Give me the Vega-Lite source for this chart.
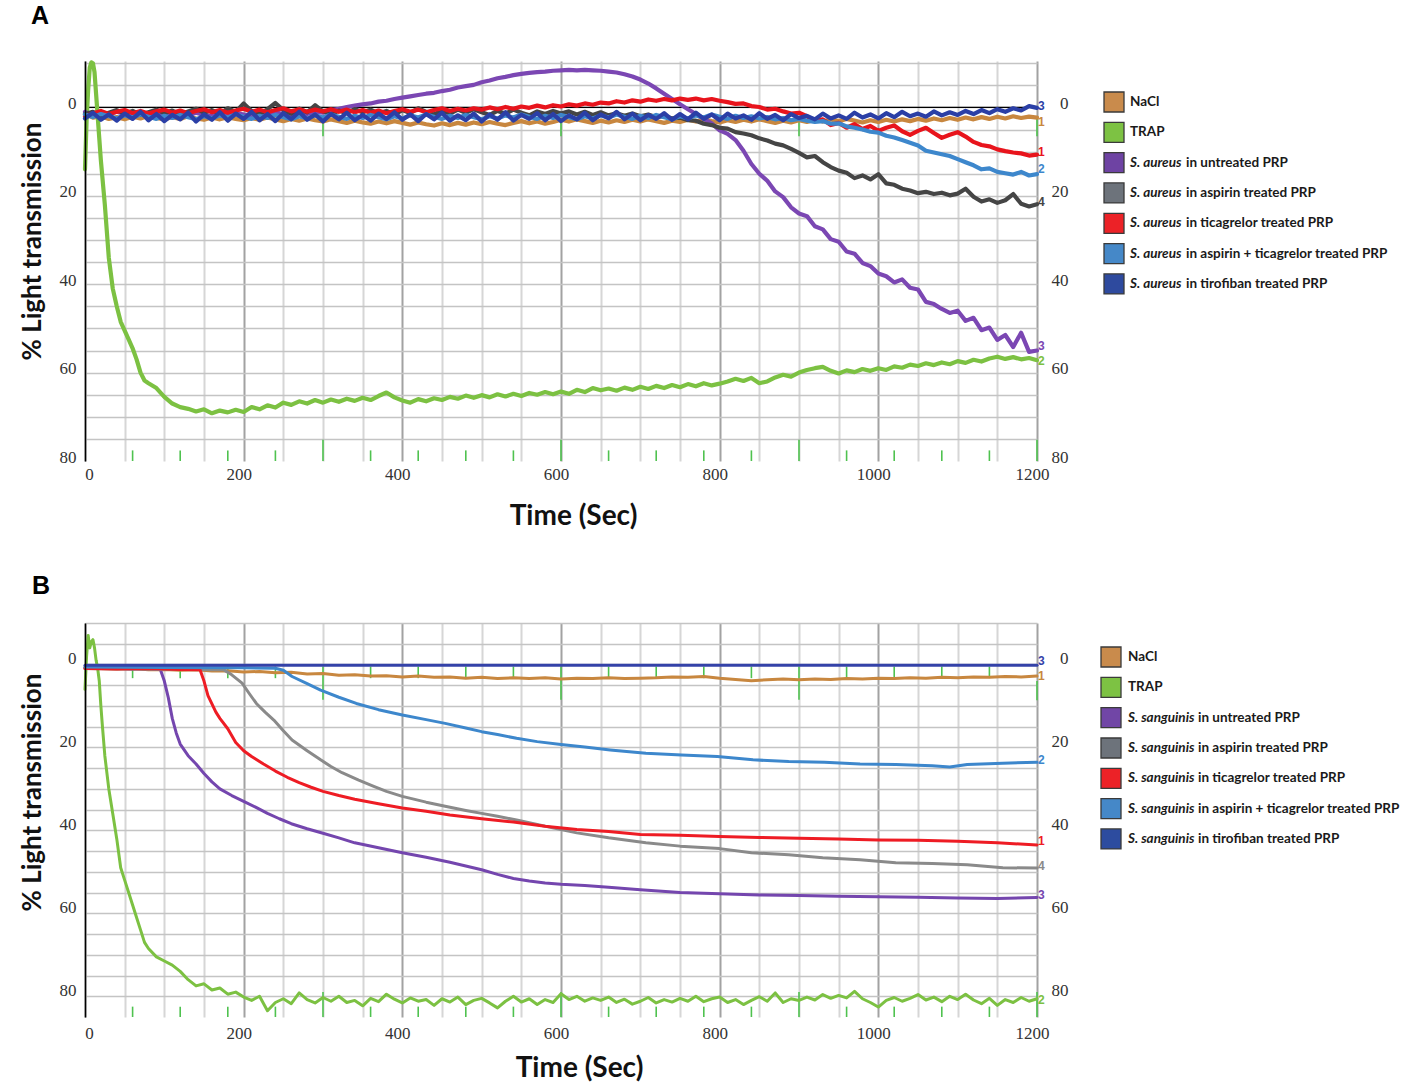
{
"$schema":"https://vega.github.io/schema/vega-lite/v6.json",
"background":"white",
"padding":{"left":19,"top":4,"right":0,"bottom":0},
"config":{"view":{"stroke":null},"axis":{"labelFont":"Liberation Serif","labelFontSize":17,"labelColor":"#333","ticks":false,"domain":false,"titleFont":"Lato","titleFontWeight":"bold","titleColor":"#111","labelFlush":false}},
"resolve":{"scale":{"color":"independent","fill":"independent"}},
"spacing":44,
"datasets":{
"A":[
{"s":"N","t":0,"v":1.5},{"s":"N","t":10,"v":2.3},{"s":"N","t":20,"v":2.0},{"s":"N","t":30,"v":2.6},{"s":"N","t":40,"v":2.2},{"s":"N","t":50,"v":2.7},{"s":"N","t":60,"v":2.1},{"s":"N","t":70,"v":2.5},{"s":"N","t":80,"v":1.9},{"s":"N","t":90,"v":2.4},{"s":"N","t":100,"v":2.7},{"s":"N","t":110,"v":2.2},{"s":"N","t":120,"v":2.6},{"s":"N","t":130,"v":2.0},{"s":"N","t":140,"v":2.5},{"s":"N","t":150,"v":2.8},{"s":"N","t":160,"v":2.3},{"s":"N","t":170,"v":2.7},{"s":"N","t":180,"v":2.2},{"s":"N","t":190,"v":2.6},{"s":"N","t":200,"v":2.9},{"s":"N","t":210,"v":2.4},{"s":"N","t":220,"v":2.8},{"s":"N","t":230,"v":2.3},{"s":"N","t":240,"v":2.7},{"s":"N","t":250,"v":3.1},{"s":"N","t":260,"v":2.6},{"s":"N","t":270,"v":3.0},{"s":"N","t":280,"v":2.5},{"s":"N","t":290,"v":2.9},{"s":"N","t":300,"v":3.2},{"s":"N","t":310,"v":2.7},{"s":"N","t":320,"v":3.1},{"s":"N","t":330,"v":3.5},{"s":"N","t":340,"v":3.0},{"s":"N","t":350,"v":3.4},{"s":"N","t":360,"v":3.7},{"s":"N","t":370,"v":3.2},{"s":"N","t":380,"v":3.6},{"s":"N","t":390,"v":3.1},{"s":"N","t":400,"v":3.5},{"s":"N","t":410,"v":3.9},{"s":"N","t":420,"v":3.4},{"s":"N","t":430,"v":3.8},{"s":"N","t":440,"v":4.1},{"s":"N","t":450,"v":3.6},{"s":"N","t":460,"v":4.0},{"s":"N","t":470,"v":3.5},{"s":"N","t":480,"v":3.9},{"s":"N","t":490,"v":3.4},{"s":"N","t":500,"v":3.8},{"s":"N","t":510,"v":3.3},{"s":"N","t":520,"v":3.7},{"s":"N","t":530,"v":4.0},{"s":"N","t":540,"v":3.5},{"s":"N","t":550,"v":3.1},{"s":"N","t":560,"v":3.6},{"s":"N","t":570,"v":3.2},{"s":"N","t":580,"v":3.7},{"s":"N","t":590,"v":3.3},{"s":"N","t":600,"v":2.8},{"s":"N","t":610,"v":3.2},{"s":"N","t":620,"v":2.7},{"s":"N","t":630,"v":3.1},{"s":"N","t":640,"v":3.5},{"s":"N","t":650,"v":3.0},{"s":"N","t":660,"v":3.4},{"s":"N","t":670,"v":2.9},{"s":"N","t":680,"v":3.3},{"s":"N","t":690,"v":2.8},{"s":"N","t":700,"v":3.2},{"s":"N","t":710,"v":2.7},{"s":"N","t":720,"v":3.1},{"s":"N","t":730,"v":3.5},{"s":"N","t":740,"v":3.0},{"s":"N","t":750,"v":3.3},{"s":"N","t":760,"v":2.8},{"s":"N","t":770,"v":3.2},{"s":"N","t":780,"v":2.7},{"s":"N","t":790,"v":3.1},{"s":"N","t":800,"v":3.4},{"s":"N","t":810,"v":2.9},{"s":"N","t":820,"v":3.3},{"s":"N","t":830,"v":2.8},{"s":"N","t":840,"v":3.2},{"s":"N","t":850,"v":2.7},{"s":"N","t":860,"v":3.1},{"s":"N","t":870,"v":3.5},{"s":"N","t":880,"v":3.0},{"s":"N","t":890,"v":3.4},{"s":"N","t":900,"v":2.9},{"s":"N","t":910,"v":3.3},{"s":"N","t":920,"v":2.8},{"s":"N","t":930,"v":3.2},{"s":"N","t":940,"v":2.7},{"s":"N","t":950,"v":3.1},{"s":"N","t":960,"v":2.6},{"s":"N","t":970,"v":3.0},{"s":"N","t":980,"v":3.4},{"s":"N","t":990,"v":2.9},{"s":"N","t":1000,"v":3.3},{"s":"N","t":1010,"v":2.8},{"s":"N","t":1020,"v":3.2},{"s":"N","t":1030,"v":2.7},{"s":"N","t":1040,"v":3.1},{"s":"N","t":1050,"v":2.6},{"s":"N","t":1060,"v":3.0},{"s":"N","t":1070,"v":2.5},{"s":"N","t":1080,"v":2.9},{"s":"N","t":1090,"v":2.4},{"s":"N","t":1100,"v":2.8},{"s":"N","t":1110,"v":2.3},{"s":"N","t":1120,"v":2.7},{"s":"N","t":1130,"v":2.2},{"s":"N","t":1140,"v":2.6},{"s":"N","t":1150,"v":2.1},{"s":"N","t":1160,"v":2.5},{"s":"N","t":1170,"v":2.0},{"s":"N","t":1180,"v":2.4},{"s":"N","t":1190,"v":2.1},{"s":"N","t":1200,"v":2.3},
{"s":"T","t":0,"v":14},{"s":"T","t":2,"v":3},{"s":"T","t":4,"v":-4},{"s":"T","t":6,"v":-9},{"s":"T","t":8,"v":-10.2},{"s":"T","t":10,"v":-10},{"s":"T","t":12,"v":-8},{"s":"T","t":14,"v":-3},{"s":"T","t":16,"v":2},{"s":"T","t":18,"v":7},{"s":"T","t":20,"v":12},{"s":"T","t":25,"v":22},{"s":"T","t":30,"v":34},{"s":"T","t":35,"v":41},{"s":"T","t":40,"v":45},{"s":"T","t":45,"v":48.5},{"s":"T","t":50,"v":50.5},{"s":"T","t":55,"v":52.5},{"s":"T","t":60,"v":54.5},{"s":"T","t":65,"v":57},{"s":"T","t":70,"v":60},{"s":"T","t":75,"v":61.8},{"s":"T","t":80,"v":62.4},{"s":"T","t":90,"v":63.5},{"s":"T","t":100,"v":65.5},{"s":"T","t":110,"v":67},{"s":"T","t":120,"v":67.8},{"s":"T","t":130,"v":68.2},{"s":"T","t":140,"v":68.8},{"s":"T","t":150,"v":68.3},{"s":"T","t":160,"v":69.2},{"s":"T","t":170,"v":68.6},{"s":"T","t":180,"v":69.0},{"s":"T","t":190,"v":68.4},{"s":"T","t":200,"v":68.9},{"s":"T","t":210,"v":67.8},{"s":"T","t":220,"v":68.3},{"s":"T","t":230,"v":67.4},{"s":"T","t":240,"v":67.9},{"s":"T","t":250,"v":66.8},{"s":"T","t":260,"v":67.3},{"s":"T","t":270,"v":66.5},{"s":"T","t":280,"v":67.0},{"s":"T","t":290,"v":66.2},{"s":"T","t":300,"v":66.8},{"s":"T","t":310,"v":66.1},{"s":"T","t":320,"v":66.6},{"s":"T","t":330,"v":65.9},{"s":"T","t":340,"v":66.4},{"s":"T","t":350,"v":65.7},{"s":"T","t":360,"v":66.2},{"s":"T","t":370,"v":65.3},{"s":"T","t":380,"v":64.5},{"s":"T","t":390,"v":65.6},{"s":"T","t":400,"v":66.3},{"s":"T","t":410,"v":66.8},{"s":"T","t":420,"v":66.0},{"s":"T","t":430,"v":66.5},{"s":"T","t":440,"v":65.8},{"s":"T","t":450,"v":66.2},{"s":"T","t":460,"v":65.5},{"s":"T","t":470,"v":65.9},{"s":"T","t":480,"v":65.2},{"s":"T","t":490,"v":65.7},{"s":"T","t":500,"v":65.1},{"s":"T","t":510,"v":65.6},{"s":"T","t":520,"v":64.9},{"s":"T","t":530,"v":65.4},{"s":"T","t":540,"v":64.8},{"s":"T","t":550,"v":65.3},{"s":"T","t":560,"v":64.6},{"s":"T","t":570,"v":65.0},{"s":"T","t":580,"v":64.4},{"s":"T","t":590,"v":64.9},{"s":"T","t":600,"v":64.3},{"s":"T","t":610,"v":64.8},{"s":"T","t":620,"v":63.9},{"s":"T","t":630,"v":64.4},{"s":"T","t":640,"v":63.5},{"s":"T","t":650,"v":64.0},{"s":"T","t":660,"v":63.6},{"s":"T","t":670,"v":64.1},{"s":"T","t":680,"v":63.4},{"s":"T","t":690,"v":63.9},{"s":"T","t":700,"v":63.2},{"s":"T","t":710,"v":63.7},{"s":"T","t":720,"v":63.0},{"s":"T","t":730,"v":63.5},{"s":"T","t":740,"v":62.8},{"s":"T","t":750,"v":63.3},{"s":"T","t":760,"v":62.6},{"s":"T","t":770,"v":63.1},{"s":"T","t":780,"v":62.4},{"s":"T","t":790,"v":62.9},{"s":"T","t":800,"v":62.5},{"s":"T","t":810,"v":62.0},{"s":"T","t":820,"v":61.4},{"s":"T","t":830,"v":61.9},{"s":"T","t":840,"v":61.2},{"s":"T","t":850,"v":62.4},{"s":"T","t":860,"v":62.0},{"s":"T","t":870,"v":61.1},{"s":"T","t":880,"v":60.5},{"s":"T","t":890,"v":60.9},{"s":"T","t":900,"v":60.0},{"s":"T","t":910,"v":59.4},{"s":"T","t":920,"v":59.0},{"s":"T","t":930,"v":58.7},{"s":"T","t":940,"v":59.6},{"s":"T","t":950,"v":60.2},{"s":"T","t":960,"v":59.5},{"s":"T","t":970,"v":59.9},{"s":"T","t":980,"v":59.2},{"s":"T","t":990,"v":59.6},{"s":"T","t":1000,"v":59.0},{"s":"T","t":1010,"v":59.4},{"s":"T","t":1020,"v":58.6},{"s":"T","t":1030,"v":58.9},{"s":"T","t":1040,"v":58.2},{"s":"T","t":1050,"v":58.5},{"s":"T","t":1060,"v":57.9},{"s":"T","t":1070,"v":58.3},{"s":"T","t":1080,"v":57.7},{"s":"T","t":1090,"v":58.1},{"s":"T","t":1100,"v":57.4},{"s":"T","t":1110,"v":57.8},{"s":"T","t":1120,"v":57.1},{"s":"T","t":1130,"v":57.5},{"s":"T","t":1140,"v":56.8},{"s":"T","t":1150,"v":56.4},{"s":"T","t":1160,"v":56.9},{"s":"T","t":1170,"v":56.5},{"s":"T","t":1180,"v":57.0},{"s":"T","t":1190,"v":56.7},{"s":"T","t":1200,"v":57.2},
{"s":"U","t":0,"v":1.0},{"s":"U","t":10,"v":1.8},{"s":"U","t":20,"v":1.2},{"s":"U","t":30,"v":1.6},{"s":"U","t":40,"v":1.0},{"s":"U","t":50,"v":1.5},{"s":"U","t":60,"v":1.9},{"s":"U","t":70,"v":1.3},{"s":"U","t":80,"v":1.7},{"s":"U","t":90,"v":1.1},{"s":"U","t":100,"v":1.6},{"s":"U","t":110,"v":2.0},{"s":"U","t":120,"v":1.4},{"s":"U","t":130,"v":1.8},{"s":"U","t":140,"v":1.2},{"s":"U","t":150,"v":1.7},{"s":"U","t":160,"v":2.0},{"s":"U","t":170,"v":1.4},{"s":"U","t":180,"v":1.8},{"s":"U","t":190,"v":1.2},{"s":"U","t":200,"v":1.6},{"s":"U","t":210,"v":1.9},{"s":"U","t":220,"v":1.3},{"s":"U","t":230,"v":1.7},{"s":"U","t":240,"v":1.1},{"s":"U","t":250,"v":1.5},{"s":"U","t":260,"v":1.8},{"s":"U","t":270,"v":1.2},{"s":"U","t":280,"v":1.5},{"s":"U","t":290,"v":1.0},{"s":"U","t":300,"v":1.2},{"s":"U","t":310,"v":0.6},{"s":"U","t":320,"v":0.3},{"s":"U","t":330,"v":-0.1},{"s":"U","t":340,"v":-0.4},{"s":"U","t":350,"v":-0.7},{"s":"U","t":360,"v":-0.9},{"s":"U","t":370,"v":-1.3},{"s":"U","t":380,"v":-1.5},{"s":"U","t":390,"v":-1.9},{"s":"U","t":400,"v":-2.2},{"s":"U","t":410,"v":-2.5},{"s":"U","t":420,"v":-2.8},{"s":"U","t":430,"v":-3.1},{"s":"U","t":440,"v":-3.3},{"s":"U","t":450,"v":-3.7},{"s":"U","t":460,"v":-4.0},{"s":"U","t":470,"v":-4.5},{"s":"U","t":480,"v":-4.8},{"s":"U","t":490,"v":-5.1},{"s":"U","t":500,"v":-5.7},{"s":"U","t":510,"v":-6.1},{"s":"U","t":520,"v":-6.6},{"s":"U","t":530,"v":-6.9},{"s":"U","t":540,"v":-7.3},{"s":"U","t":550,"v":-7.6},{"s":"U","t":560,"v":-7.8},{"s":"U","t":570,"v":-8.0},{"s":"U","t":580,"v":-8.1},{"s":"U","t":590,"v":-8.3},{"s":"U","t":600,"v":-8.4},{"s":"U","t":610,"v":-8.5},{"s":"U","t":620,"v":-8.4},{"s":"U","t":630,"v":-8.5},{"s":"U","t":640,"v":-8.4},{"s":"U","t":650,"v":-8.3},{"s":"U","t":660,"v":-8.1},{"s":"U","t":670,"v":-7.9},{"s":"U","t":680,"v":-7.5},{"s":"U","t":690,"v":-7.0},{"s":"U","t":700,"v":-6.3},{"s":"U","t":710,"v":-5.4},{"s":"U","t":720,"v":-4.3},{"s":"U","t":730,"v":-3.1},{"s":"U","t":740,"v":-1.9},{"s":"U","t":750,"v":-0.7},{"s":"U","t":760,"v":0.4},{"s":"U","t":770,"v":1.5},{"s":"U","t":780,"v":2.6},{"s":"U","t":790,"v":3.6},{"s":"U","t":800,"v":5.2},{"s":"U","t":810,"v":6.0},{"s":"U","t":820,"v":7.4},{"s":"U","t":830,"v":9.8},{"s":"U","t":840,"v":12.8},{"s":"U","t":850,"v":15.0},{"s":"U","t":860,"v":16.6},{"s":"U","t":870,"v":19.0},{"s":"U","t":880,"v":20.3},{"s":"U","t":890,"v":22.6},{"s":"U","t":900,"v":24.0},{"s":"U","t":910,"v":24.6},{"s":"U","t":920,"v":26.9},{"s":"U","t":930,"v":27.6},{"s":"U","t":940,"v":29.8},{"s":"U","t":950,"v":30.4},{"s":"U","t":960,"v":32.6},{"s":"U","t":970,"v":33.1},{"s":"U","t":980,"v":35.2},{"s":"U","t":990,"v":35.9},{"s":"U","t":1000,"v":37.6},{"s":"U","t":1010,"v":38.2},{"s":"U","t":1020,"v":39.6},{"s":"U","t":1030,"v":38.9},{"s":"U","t":1040,"v":40.8},{"s":"U","t":1050,"v":41.2},{"s":"U","t":1060,"v":44.0},{"s":"U","t":1070,"v":44.5},{"s":"U","t":1080,"v":45.6},{"s":"U","t":1090,"v":46.5},{"s":"U","t":1100,"v":46.0},{"s":"U","t":1110,"v":48.3},{"s":"U","t":1120,"v":47.6},{"s":"U","t":1130,"v":50.4},{"s":"U","t":1140,"v":49.8},{"s":"U","t":1150,"v":52.6},{"s":"U","t":1160,"v":51.5},{"s":"U","t":1170,"v":54.2},{"s":"U","t":1180,"v":51.0},{"s":"U","t":1190,"v":55.3},{"s":"U","t":1200,"v":55.0},
{"s":"G","t":0,"v":1.5},{"s":"G","t":10,"v":1.0},{"s":"G","t":20,"v":1.9},{"s":"G","t":30,"v":1.2},{"s":"G","t":40,"v":0.6},{"s":"G","t":50,"v":1.4},{"s":"G","t":60,"v":0.8},{"s":"G","t":70,"v":1.7},{"s":"G","t":80,"v":1.1},{"s":"G","t":90,"v":0.5},{"s":"G","t":100,"v":1.3},{"s":"G","t":110,"v":0.7},{"s":"G","t":120,"v":1.6},{"s":"G","t":130,"v":0.9},{"s":"G","t":140,"v":0.3},{"s":"G","t":150,"v":1.2},{"s":"G","t":160,"v":0.6},{"s":"G","t":170,"v":1.5},{"s":"G","t":180,"v":0.2},{"s":"G","t":190,"v":1.0},{"s":"G","t":200,"v":-0.9},{"s":"G","t":210,"v":0.8},{"s":"G","t":220,"v":1.5},{"s":"G","t":230,"v":0.4},{"s":"G","t":240,"v":-1.0},{"s":"G","t":250,"v":0.6},{"s":"G","t":260,"v":1.4},{"s":"G","t":270,"v":0.3},{"s":"G","t":280,"v":1.1},{"s":"G","t":290,"v":-0.5},{"s":"G","t":300,"v":0.9},{"s":"G","t":310,"v":1.6},{"s":"G","t":320,"v":0.7},{"s":"G","t":330,"v":1.3},{"s":"G","t":340,"v":0.4},{"s":"G","t":350,"v":1.1},{"s":"G","t":360,"v":0.5},{"s":"G","t":370,"v":1.4},{"s":"G","t":380,"v":0.8},{"s":"G","t":390,"v":1.6},{"s":"G","t":400,"v":0.6},{"s":"G","t":410,"v":1.3},{"s":"G","t":420,"v":0.2},{"s":"G","t":430,"v":1.0},{"s":"G","t":440,"v":1.6},{"s":"G","t":450,"v":0.7},{"s":"G","t":460,"v":1.4},{"s":"G","t":470,"v":0.5},{"s":"G","t":480,"v":1.2},{"s":"G","t":490,"v":0.4},{"s":"G","t":500,"v":1.1},{"s":"G","t":510,"v":1.7},{"s":"G","t":520,"v":0.8},{"s":"G","t":530,"v":1.4},{"s":"G","t":540,"v":0.5},{"s":"G","t":550,"v":1.2},{"s":"G","t":560,"v":1.8},{"s":"G","t":570,"v":0.9},{"s":"G","t":580,"v":1.5},{"s":"G","t":590,"v":0.8},{"s":"G","t":600,"v":1.4},{"s":"G","t":610,"v":0.9},{"s":"G","t":620,"v":1.6},{"s":"G","t":630,"v":1.0},{"s":"G","t":640,"v":1.7},{"s":"G","t":650,"v":1.1},{"s":"G","t":660,"v":1.8},{"s":"G","t":670,"v":1.3},{"s":"G","t":680,"v":1.9},{"s":"G","t":690,"v":1.4},{"s":"G","t":700,"v":2.0},{"s":"G","t":710,"v":1.6},{"s":"G","t":720,"v":2.2},{"s":"G","t":730,"v":1.9},{"s":"G","t":740,"v":2.5},{"s":"G","t":750,"v":2.3},{"s":"G","t":760,"v":2.9},{"s":"G","t":770,"v":3.0},{"s":"G","t":780,"v":3.7},{"s":"G","t":790,"v":4.0},{"s":"G","t":800,"v":4.6},{"s":"G","t":810,"v":4.8},{"s":"G","t":820,"v":5.6},{"s":"G","t":830,"v":5.9},{"s":"G","t":840,"v":6.3},{"s":"G","t":850,"v":7.0},{"s":"G","t":860,"v":7.5},{"s":"G","t":870,"v":8.2},{"s":"G","t":880,"v":8.6},{"s":"G","t":890,"v":9.4},{"s":"G","t":900,"v":10.3},{"s":"G","t":910,"v":11.3},{"s":"G","t":920,"v":11.0},{"s":"G","t":930,"v":12.4},{"s":"G","t":940,"v":13.5},{"s":"G","t":950,"v":14.3},{"s":"G","t":960,"v":14.8},{"s":"G","t":970,"v":16.0},{"s":"G","t":980,"v":15.4},{"s":"G","t":990,"v":16.3},{"s":"G","t":1000,"v":15.1},{"s":"G","t":1010,"v":17.2},{"s":"G","t":1020,"v":17.5},{"s":"G","t":1030,"v":18.4},{"s":"G","t":1040,"v":18.8},{"s":"G","t":1050,"v":19.4},{"s":"G","t":1060,"v":19.1},{"s":"G","t":1070,"v":19.6},{"s":"G","t":1080,"v":19.3},{"s":"G","t":1090,"v":19.9},{"s":"G","t":1100,"v":19.5},{"s":"G","t":1110,"v":18.4},{"s":"G","t":1120,"v":20.2},{"s":"G","t":1130,"v":21.3},{"s":"G","t":1140,"v":20.8},{"s":"G","t":1150,"v":21.6},{"s":"G","t":1160,"v":21.0},{"s":"G","t":1170,"v":19.6},{"s":"G","t":1180,"v":21.8},{"s":"G","t":1190,"v":22.4},{"s":"G","t":1200,"v":21.9},
{"s":"R","t":0,"v":2.0},{"s":"R","t":10,"v":1.4},{"s":"R","t":20,"v":0.8},{"s":"R","t":30,"v":1.5},{"s":"R","t":40,"v":1.0},{"s":"R","t":50,"v":0.6},{"s":"R","t":60,"v":1.3},{"s":"R","t":70,"v":0.8},{"s":"R","t":80,"v":1.4},{"s":"R","t":90,"v":0.9},{"s":"R","t":100,"v":0.5},{"s":"R","t":110,"v":1.2},{"s":"R","t":120,"v":0.7},{"s":"R","t":130,"v":1.3},{"s":"R","t":140,"v":0.8},{"s":"R","t":150,"v":0.4},{"s":"R","t":160,"v":1.1},{"s":"R","t":170,"v":0.6},{"s":"R","t":180,"v":1.2},{"s":"R","t":190,"v":0.7},{"s":"R","t":200,"v":0.3},{"s":"R","t":210,"v":1.0},{"s":"R","t":220,"v":0.5},{"s":"R","t":230,"v":1.1},{"s":"R","t":240,"v":0.6},{"s":"R","t":250,"v":0.2},{"s":"R","t":260,"v":0.9},{"s":"R","t":270,"v":0.4},{"s":"R","t":280,"v":1.0},{"s":"R","t":290,"v":0.5},{"s":"R","t":300,"v":0.9},{"s":"R","t":310,"v":0.4},{"s":"R","t":320,"v":1.0},{"s":"R","t":330,"v":0.5},{"s":"R","t":340,"v":1.1},{"s":"R","t":350,"v":0.6},{"s":"R","t":360,"v":1.2},{"s":"R","t":370,"v":0.7},{"s":"R","t":380,"v":1.3},{"s":"R","t":390,"v":0.8},{"s":"R","t":400,"v":0.4},{"s":"R","t":410,"v":1.0},{"s":"R","t":420,"v":0.5},{"s":"R","t":430,"v":1.1},{"s":"R","t":440,"v":0.6},{"s":"R","t":450,"v":0.2},{"s":"R","t":460,"v":0.8},{"s":"R","t":470,"v":0.3},{"s":"R","t":480,"v":0.7},{"s":"R","t":490,"v":0.2},{"s":"R","t":500,"v":0.5},{"s":"R","t":510,"v":0.0},{"s":"R","t":520,"v":0.4},{"s":"R","t":530,"v":-0.1},{"s":"R","t":540,"v":0.3},{"s":"R","t":550,"v":-0.2},{"s":"R","t":560,"v":0.1},{"s":"R","t":570,"v":-0.4},{"s":"R","t":580,"v":0.0},{"s":"R","t":590,"v":-0.5},{"s":"R","t":600,"v":-0.2},{"s":"R","t":610,"v":-0.7},{"s":"R","t":620,"v":-0.4},{"s":"R","t":630,"v":-0.9},{"s":"R","t":640,"v":-0.6},{"s":"R","t":650,"v":-1.1},{"s":"R","t":660,"v":-0.9},{"s":"R","t":670,"v":-1.4},{"s":"R","t":680,"v":-1.1},{"s":"R","t":690,"v":-1.6},{"s":"R","t":700,"v":-1.3},{"s":"R","t":710,"v":-1.8},{"s":"R","t":720,"v":-1.5},{"s":"R","t":730,"v":-1.9},{"s":"R","t":740,"v":-1.6},{"s":"R","t":750,"v":-2.0},{"s":"R","t":760,"v":-1.7},{"s":"R","t":770,"v":-2.0},{"s":"R","t":780,"v":-1.6},{"s":"R","t":790,"v":-1.9},{"s":"R","t":800,"v":-1.5},{"s":"R","t":810,"v":-1.2},{"s":"R","t":820,"v":-0.8},{"s":"R","t":830,"v":-0.9},{"s":"R","t":840,"v":-0.3},{"s":"R","t":850,"v":-0.1},{"s":"R","t":860,"v":0.5},{"s":"R","t":870,"v":0.3},{"s":"R","t":880,"v":0.9},{"s":"R","t":890,"v":1.4},{"s":"R","t":900,"v":1.2},{"s":"R","t":910,"v":2.0},{"s":"R","t":920,"v":3.1},{"s":"R","t":930,"v":2.7},{"s":"R","t":940,"v":4.0},{"s":"R","t":950,"v":3.5},{"s":"R","t":960,"v":4.6},{"s":"R","t":970,"v":3.8},{"s":"R","t":980,"v":4.9},{"s":"R","t":990,"v":4.2},{"s":"R","t":1000,"v":5.3},{"s":"R","t":1010,"v":4.6},{"s":"R","t":1020,"v":4.1},{"s":"R","t":1030,"v":5.4},{"s":"R","t":1040,"v":6.2},{"s":"R","t":1050,"v":5.3},{"s":"R","t":1060,"v":4.6},{"s":"R","t":1070,"v":5.8},{"s":"R","t":1080,"v":6.9},{"s":"R","t":1090,"v":6.2},{"s":"R","t":1100,"v":5.6},{"s":"R","t":1110,"v":6.6},{"s":"R","t":1120,"v":7.8},{"s":"R","t":1130,"v":8.5},{"s":"R","t":1140,"v":8.8},{"s":"R","t":1150,"v":9.5},{"s":"R","t":1160,"v":9.9},{"s":"R","t":1170,"v":10.2},{"s":"R","t":1180,"v":10.4},{"s":"R","t":1190,"v":10.9},{"s":"R","t":1200,"v":10.7},
{"s":"L","t":0,"v":1.6},{"s":"L","t":10,"v":2.2},{"s":"L","t":20,"v":1.5},{"s":"L","t":30,"v":2.0},{"s":"L","t":40,"v":2.5},{"s":"L","t":50,"v":1.8},{"s":"L","t":60,"v":2.3},{"s":"L","t":70,"v":1.6},{"s":"L","t":80,"v":2.1},{"s":"L","t":90,"v":2.6},{"s":"L","t":100,"v":1.9},{"s":"L","t":110,"v":2.4},{"s":"L","t":120,"v":1.7},{"s":"L","t":130,"v":2.2},{"s":"L","t":140,"v":2.7},{"s":"L","t":150,"v":2.0},{"s":"L","t":160,"v":2.5},{"s":"L","t":170,"v":1.8},{"s":"L","t":180,"v":2.3},{"s":"L","t":190,"v":1.6},{"s":"L","t":200,"v":2.1},{"s":"L","t":210,"v":2.6},{"s":"L","t":220,"v":1.9},{"s":"L","t":230,"v":2.4},{"s":"L","t":240,"v":1.7},{"s":"L","t":250,"v":2.2},{"s":"L","t":260,"v":2.7},{"s":"L","t":270,"v":2.0},{"s":"L","t":280,"v":2.5},{"s":"L","t":290,"v":1.8},{"s":"L","t":300,"v":2.3},{"s":"L","t":310,"v":1.6},{"s":"L","t":320,"v":2.1},{"s":"L","t":330,"v":2.6},{"s":"L","t":340,"v":1.9},{"s":"L","t":350,"v":2.4},{"s":"L","t":360,"v":1.7},{"s":"L","t":370,"v":2.2},{"s":"L","t":380,"v":2.7},{"s":"L","t":390,"v":2.0},{"s":"L","t":400,"v":2.5},{"s":"L","t":410,"v":1.8},{"s":"L","t":420,"v":2.3},{"s":"L","t":430,"v":1.6},{"s":"L","t":440,"v":2.1},{"s":"L","t":450,"v":2.6},{"s":"L","t":460,"v":1.9},{"s":"L","t":470,"v":2.4},{"s":"L","t":480,"v":1.7},{"s":"L","t":490,"v":2.2},{"s":"L","t":500,"v":2.7},{"s":"L","t":510,"v":2.0},{"s":"L","t":520,"v":2.5},{"s":"L","t":530,"v":1.8},{"s":"L","t":540,"v":2.3},{"s":"L","t":550,"v":1.6},{"s":"L","t":560,"v":2.1},{"s":"L","t":570,"v":2.6},{"s":"L","t":580,"v":1.9},{"s":"L","t":590,"v":2.4},{"s":"L","t":600,"v":1.7},{"s":"L","t":610,"v":2.2},{"s":"L","t":620,"v":2.7},{"s":"L","t":630,"v":2.0},{"s":"L","t":640,"v":2.5},{"s":"L","t":650,"v":1.8},{"s":"L","t":660,"v":2.3},{"s":"L","t":670,"v":1.6},{"s":"L","t":680,"v":2.1},{"s":"L","t":690,"v":2.6},{"s":"L","t":700,"v":1.9},{"s":"L","t":710,"v":2.4},{"s":"L","t":720,"v":1.7},{"s":"L","t":730,"v":2.2},{"s":"L","t":740,"v":2.7},{"s":"L","t":750,"v":2.0},{"s":"L","t":760,"v":2.5},{"s":"L","t":770,"v":1.8},{"s":"L","t":780,"v":2.3},{"s":"L","t":790,"v":1.6},{"s":"L","t":800,"v":2.1},{"s":"L","t":810,"v":2.6},{"s":"L","t":820,"v":1.9},{"s":"L","t":830,"v":2.4},{"s":"L","t":840,"v":2.0},{"s":"L","t":850,"v":2.5},{"s":"L","t":860,"v":2.2},{"s":"L","t":870,"v":2.7},{"s":"L","t":880,"v":2.4},{"s":"L","t":890,"v":2.9},{"s":"L","t":900,"v":2.6},{"s":"L","t":910,"v":3.0},{"s":"L","t":920,"v":3.3},{"s":"L","t":930,"v":3.1},{"s":"L","t":940,"v":3.7},{"s":"L","t":950,"v":3.6},{"s":"L","t":960,"v":4.3},{"s":"L","t":970,"v":4.6},{"s":"L","t":980,"v":5.0},{"s":"L","t":990,"v":5.5},{"s":"L","t":1000,"v":5.7},{"s":"L","t":1010,"v":6.4},{"s":"L","t":1020,"v":6.8},{"s":"L","t":1030,"v":7.4},{"s":"L","t":1040,"v":8.0},{"s":"L","t":1050,"v":8.6},{"s":"L","t":1060,"v":9.8},{"s":"L","t":1070,"v":10.2},{"s":"L","t":1080,"v":10.6},{"s":"L","t":1090,"v":11.0},{"s":"L","t":1100,"v":11.7},{"s":"L","t":1110,"v":12.4},{"s":"L","t":1120,"v":13.1},{"s":"L","t":1130,"v":14.0},{"s":"L","t":1140,"v":13.8},{"s":"L","t":1150,"v":14.6},{"s":"L","t":1160,"v":14.9},{"s":"L","t":1170,"v":15.2},{"s":"L","t":1180,"v":14.6},{"s":"L","t":1190,"v":15.4},{"s":"L","t":1200,"v":15.1},
{"s":"D","t":0,"v":2.5},{"s":"D","t":10,"v":1.2},{"s":"D","t":20,"v":2.8},{"s":"D","t":30,"v":1.6},{"s":"D","t":40,"v":3.0},{"s":"D","t":50,"v":1.4},{"s":"D","t":60,"v":2.6},{"s":"D","t":70,"v":1.0},{"s":"D","t":80,"v":2.9},{"s":"D","t":90,"v":1.5},{"s":"D","t":100,"v":3.1},{"s":"D","t":110,"v":1.7},{"s":"D","t":120,"v":2.7},{"s":"D","t":130,"v":1.2},{"s":"D","t":140,"v":3.2},{"s":"D","t":150,"v":1.6},{"s":"D","t":160,"v":2.8},{"s":"D","t":170,"v":1.1},{"s":"D","t":180,"v":3.0},{"s":"D","t":190,"v":1.4},{"s":"D","t":200,"v":2.6},{"s":"D","t":210,"v":1.0},{"s":"D","t":220,"v":2.9},{"s":"D","t":230,"v":1.5},{"s":"D","t":240,"v":3.1},{"s":"D","t":250,"v":1.3},{"s":"D","t":260,"v":2.7},{"s":"D","t":270,"v":1.0},{"s":"D","t":280,"v":2.8},{"s":"D","t":290,"v":1.6},{"s":"D","t":300,"v":3.2},{"s":"D","t":310,"v":1.5},{"s":"D","t":320,"v":2.7},{"s":"D","t":330,"v":1.2},{"s":"D","t":340,"v":2.9},{"s":"D","t":350,"v":1.7},{"s":"D","t":360,"v":3.0},{"s":"D","t":370,"v":1.4},{"s":"D","t":380,"v":2.6},{"s":"D","t":390,"v":1.1},{"s":"D","t":400,"v":2.8},{"s":"D","t":410,"v":1.6},{"s":"D","t":420,"v":3.1},{"s":"D","t":430,"v":1.5},{"s":"D","t":440,"v":2.7},{"s":"D","t":450,"v":1.2},{"s":"D","t":460,"v":3.0},{"s":"D","t":470,"v":1.8},{"s":"D","t":480,"v":2.9},{"s":"D","t":490,"v":1.4},{"s":"D","t":500,"v":3.2},{"s":"D","t":510,"v":1.6},{"s":"D","t":520,"v":2.8},{"s":"D","t":530,"v":1.1},{"s":"D","t":540,"v":3.0},{"s":"D","t":550,"v":1.7},{"s":"D","t":560,"v":2.6},{"s":"D","t":570,"v":1.3},{"s":"D","t":580,"v":2.9},{"s":"D","t":590,"v":1.5},{"s":"D","t":600,"v":3.1},{"s":"D","t":610,"v":1.8},{"s":"D","t":620,"v":2.7},{"s":"D","t":630,"v":1.2},{"s":"D","t":640,"v":2.9},{"s":"D","t":650,"v":1.6},{"s":"D","t":660,"v":2.5},{"s":"D","t":670,"v":1.0},{"s":"D","t":680,"v":2.7},{"s":"D","t":690,"v":1.4},{"s":"D","t":700,"v":2.9},{"s":"D","t":710,"v":1.7},{"s":"D","t":720,"v":2.6},{"s":"D","t":730,"v":1.3},{"s":"D","t":740,"v":2.8},{"s":"D","t":750,"v":1.5},{"s":"D","t":760,"v":2.7},{"s":"D","t":770,"v":1.2},{"s":"D","t":780,"v":2.6},{"s":"D","t":790,"v":1.6},{"s":"D","t":800,"v":2.9},{"s":"D","t":810,"v":1.4},{"s":"D","t":820,"v":2.5},{"s":"D","t":830,"v":1.8},{"s":"D","t":840,"v":2.8},{"s":"D","t":850,"v":1.3},{"s":"D","t":860,"v":2.6},{"s":"D","t":870,"v":1.7},{"s":"D","t":880,"v":2.9},{"s":"D","t":890,"v":1.5},{"s":"D","t":900,"v":2.4},{"s":"D","t":910,"v":1.9},{"s":"D","t":920,"v":2.7},{"s":"D","t":930,"v":1.4},{"s":"D","t":940,"v":2.5},{"s":"D","t":950,"v":1.8},{"s":"D","t":960,"v":2.6},{"s":"D","t":970,"v":1.2},{"s":"D","t":980,"v":2.3},{"s":"D","t":990,"v":1.6},{"s":"D","t":1000,"v":2.5},{"s":"D","t":1010,"v":1.3},{"s":"D","t":1020,"v":2.2},{"s":"D","t":1030,"v":1.0},{"s":"D","t":1040,"v":2.0},{"s":"D","t":1050,"v":1.4},{"s":"D","t":1060,"v":2.1},{"s":"D","t":1070,"v":0.9},{"s":"D","t":1080,"v":1.8},{"s":"D","t":1090,"v":1.1},{"s":"D","t":1100,"v":1.7},{"s":"D","t":1110,"v":0.8},{"s":"D","t":1120,"v":1.5},{"s":"D","t":1130,"v":0.6},{"s":"D","t":1140,"v":1.3},{"s":"D","t":1150,"v":0.4},{"s":"D","t":1160,"v":1.0},{"s":"D","t":1170,"v":0.2},{"s":"D","t":1180,"v":0.7},{"s":"D","t":1190,"v":-0.3},{"s":"D","t":1200,"v":0.1}
],
"B":[
{"s":"N","t":0,"v":0.8},{"s":"N","t":20,"v":1.0},{"s":"N","t":40,"v":1.1},{"s":"N","t":60,"v":1.0},{"s":"N","t":80,"v":1.3},{"s":"N","t":100,"v":1.2},{"s":"N","t":120,"v":1.4},{"s":"N","t":140,"v":1.3},{"s":"N","t":160,"v":1.6},{"s":"N","t":180,"v":1.5},{"s":"N","t":200,"v":1.8},{"s":"N","t":220,"v":1.7},{"s":"N","t":240,"v":2.0},{"s":"N","t":260,"v":1.9},{"s":"N","t":280,"v":2.3},{"s":"N","t":300,"v":2.2},{"s":"N","t":320,"v":2.6},{"s":"N","t":340,"v":2.5},{"s":"N","t":360,"v":2.8},{"s":"N","t":380,"v":2.7},{"s":"N","t":400,"v":3.0},{"s":"N","t":420,"v":2.8},{"s":"N","t":440,"v":3.1},{"s":"N","t":460,"v":3.0},{"s":"N","t":480,"v":3.3},{"s":"N","t":500,"v":3.1},{"s":"N","t":520,"v":3.4},{"s":"N","t":540,"v":3.2},{"s":"N","t":560,"v":3.4},{"s":"N","t":580,"v":3.2},{"s":"N","t":600,"v":3.5},{"s":"N","t":620,"v":3.3},{"s":"N","t":640,"v":3.4},{"s":"N","t":660,"v":3.2},{"s":"N","t":680,"v":3.4},{"s":"N","t":700,"v":3.3},{"s":"N","t":720,"v":3.2},{"s":"N","t":740,"v":3.0},{"s":"N","t":760,"v":3.1},{"s":"N","t":780,"v":2.9},{"s":"N","t":800,"v":3.3},{"s":"N","t":820,"v":3.6},{"s":"N","t":840,"v":3.9},{"s":"N","t":860,"v":3.7},{"s":"N","t":880,"v":3.5},{"s":"N","t":900,"v":3.7},{"s":"N","t":920,"v":3.5},{"s":"N","t":940,"v":3.6},{"s":"N","t":960,"v":3.4},{"s":"N","t":980,"v":3.5},{"s":"N","t":1000,"v":3.3},{"s":"N","t":1020,"v":3.4},{"s":"N","t":1040,"v":3.2},{"s":"N","t":1060,"v":3.3},{"s":"N","t":1080,"v":3.1},{"s":"N","t":1100,"v":3.2},{"s":"N","t":1120,"v":3.0},{"s":"N","t":1140,"v":3.1},{"s":"N","t":1160,"v":2.9},{"s":"N","t":1180,"v":3.0},{"s":"N","t":1200,"v":2.8},
{"s":"T","t":0,"v":6},{"s":"T","t":2,"v":-2},{"s":"T","t":4,"v":-7},{"s":"T","t":6,"v":-4},{"s":"T","t":8,"v":-5.5},{"s":"T","t":10,"v":-6},{"s":"T","t":12,"v":-4},{"s":"T","t":14,"v":-1},{"s":"T","t":16,"v":1},{"s":"T","t":18,"v":4},{"s":"T","t":20,"v":10},{"s":"T","t":22,"v":15},{"s":"T","t":25,"v":22},{"s":"T","t":30,"v":30},{"s":"T","t":35,"v":36},{"s":"T","t":40,"v":42},{"s":"T","t":45,"v":49},{"s":"T","t":50,"v":52},{"s":"T","t":55,"v":55},{"s":"T","t":60,"v":58},{"s":"T","t":65,"v":61},{"s":"T","t":70,"v":64},{"s":"T","t":75,"v":67},{"s":"T","t":80,"v":68.5},{"s":"T","t":90,"v":70.5},{"s":"T","t":100,"v":71.5},{"s":"T","t":110,"v":72.5},{"s":"T","t":120,"v":74},{"s":"T","t":130,"v":76},{"s":"T","t":140,"v":77.5},{"s":"T","t":150,"v":77},{"s":"T","t":160,"v":78.5},{"s":"T","t":170,"v":78},{"s":"T","t":180,"v":79.5},{"s":"T","t":190,"v":79},{"s":"T","t":200,"v":80.2},{"s":"T","t":210,"v":81},{"s":"T","t":220,"v":80},{"s":"T","t":230,"v":83.5},{"s":"T","t":240,"v":81.5},{"s":"T","t":250,"v":80.6},{"s":"T","t":260,"v":81.8},{"s":"T","t":270,"v":79.2},{"s":"T","t":280,"v":80.8},{"s":"T","t":290,"v":81.6},{"s":"T","t":300,"v":80.3},{"s":"T","t":310,"v":81.2},{"s":"T","t":320,"v":80.0},{"s":"T","t":330,"v":81.5},{"s":"T","t":340,"v":81.0},{"s":"T","t":350,"v":82.3},{"s":"T","t":360,"v":80.5},{"s":"T","t":370,"v":81.3},{"s":"T","t":380,"v":79.5},{"s":"T","t":390,"v":80.7},{"s":"T","t":400,"v":81.6},{"s":"T","t":410,"v":80.4},{"s":"T","t":420,"v":81.2},{"s":"T","t":430,"v":80.8},{"s":"T","t":440,"v":82.2},{"s":"T","t":450,"v":80.6},{"s":"T","t":460,"v":81.4},{"s":"T","t":470,"v":80.2},{"s":"T","t":480,"v":82.0},{"s":"T","t":490,"v":81.0},{"s":"T","t":500,"v":80.5},{"s":"T","t":510,"v":81.6},{"s":"T","t":520,"v":82.8},{"s":"T","t":530,"v":81.2},{"s":"T","t":540,"v":80.0},{"s":"T","t":550,"v":81.4},{"s":"T","t":560,"v":80.6},{"s":"T","t":570,"v":82.0},{"s":"T","t":580,"v":80.8},{"s":"T","t":590,"v":81.5},{"s":"T","t":600,"v":79.4},{"s":"T","t":610,"v":80.8},{"s":"T","t":620,"v":80.0},{"s":"T","t":630,"v":81.2},{"s":"T","t":640,"v":80.4},{"s":"T","t":650,"v":81.0},{"s":"T","t":660,"v":80.2},{"s":"T","t":670,"v":81.5},{"s":"T","t":680,"v":80.7},{"s":"T","t":690,"v":81.9},{"s":"T","t":700,"v":81.2},{"s":"T","t":710,"v":80.3},{"s":"T","t":720,"v":81.6},{"s":"T","t":730,"v":80.8},{"s":"T","t":740,"v":81.4},{"s":"T","t":750,"v":80.5},{"s":"T","t":760,"v":81.2},{"s":"T","t":770,"v":80.0},{"s":"T","t":780,"v":81.3},{"s":"T","t":790,"v":80.6},{"s":"T","t":800,"v":80.2},{"s":"T","t":810,"v":81.5},{"s":"T","t":820,"v":80.8},{"s":"T","t":830,"v":82.0},{"s":"T","t":840,"v":81.0},{"s":"T","t":850,"v":80.1},{"s":"T","t":860,"v":81.2},{"s":"T","t":870,"v":79.2},{"s":"T","t":880,"v":81.5},{"s":"T","t":890,"v":80.6},{"s":"T","t":900,"v":81.0},{"s":"T","t":910,"v":80.2},{"s":"T","t":920,"v":80.9},{"s":"T","t":930,"v":79.6},{"s":"T","t":940,"v":80.5},{"s":"T","t":950,"v":79.8},{"s":"T","t":960,"v":80.4},{"s":"T","t":970,"v":78.8},{"s":"T","t":980,"v":80.6},{"s":"T","t":990,"v":81.5},{"s":"T","t":1000,"v":82.6},{"s":"T","t":1010,"v":81.0},{"s":"T","t":1020,"v":80.3},{"s":"T","t":1030,"v":81.2},{"s":"T","t":1040,"v":80.5},{"s":"T","t":1050,"v":79.6},{"s":"T","t":1060,"v":80.9},{"s":"T","t":1070,"v":80.2},{"s":"T","t":1080,"v":81.3},{"s":"T","t":1090,"v":80.0},{"s":"T","t":1100,"v":80.8},{"s":"T","t":1110,"v":79.5},{"s":"T","t":1120,"v":80.9},{"s":"T","t":1130,"v":81.8},{"s":"T","t":1140,"v":80.5},{"s":"T","t":1150,"v":82.2},{"s":"T","t":1160,"v":80.8},{"s":"T","t":1170,"v":81.5},{"s":"T","t":1180,"v":80.3},{"s":"T","t":1190,"v":81.2},{"s":"T","t":1200,"v":80.6},
{"s":"U","t":0,"v":0.8},{"s":"U","t":20,"v":1.0},{"s":"U","t":40,"v":0.9},{"s":"U","t":60,"v":1.1},{"s":"U","t":80,"v":1.0},{"s":"U","t":95,"v":1.2},{"s":"U","t":100,"v":4.0},{"s":"U","t":105,"v":8.0},{"s":"U","t":110,"v":13.0},{"s":"U","t":115,"v":16.5},{"s":"U","t":120,"v":19.2},{"s":"U","t":130,"v":22.0},{"s":"U","t":140,"v":24.0},{"s":"U","t":150,"v":26.3},{"s":"U","t":160,"v":28.3},{"s":"U","t":170,"v":30.0},{"s":"U","t":185,"v":31.6},{"s":"U","t":200,"v":33.0},{"s":"U","t":215,"v":34.4},{"s":"U","t":230,"v":35.9},{"s":"U","t":245,"v":37.2},{"s":"U","t":260,"v":38.4},{"s":"U","t":280,"v":39.6},{"s":"U","t":300,"v":40.7},{"s":"U","t":320,"v":41.8},{"s":"U","t":340,"v":43.0},{"s":"U","t":370,"v":44.2},{"s":"U","t":400,"v":45.4},{"s":"U","t":430,"v":46.5},{"s":"U","t":460,"v":47.7},{"s":"U","t":480,"v":48.6},{"s":"U","t":500,"v":49.5},{"s":"U","t":520,"v":50.6},{"s":"U","t":540,"v":51.6},{"s":"U","t":560,"v":52.2},{"s":"U","t":580,"v":52.7},{"s":"U","t":600,"v":53.0},{"s":"U","t":630,"v":53.3},{"s":"U","t":660,"v":53.7},{"s":"U","t":700,"v":54.3},{"s":"U","t":750,"v":55.0},{"s":"U","t":800,"v":55.3},{"s":"U","t":850,"v":55.6},{"s":"U","t":900,"v":55.7},{"s":"U","t":950,"v":55.9},{"s":"U","t":1000,"v":56.0},{"s":"U","t":1050,"v":56.1},{"s":"U","t":1100,"v":56.3},{"s":"U","t":1150,"v":56.4},{"s":"U","t":1200,"v":56.2},
{"s":"G","t":0,"v":1.0},{"s":"G","t":60,"v":1.1},{"s":"G","t":120,"v":1.2},{"s":"G","t":175,"v":1.3},{"s":"G","t":185,"v":2.5},{"s":"G","t":198,"v":4.5},{"s":"G","t":207,"v":7.0},{"s":"G","t":216,"v":9.4},{"s":"G","t":227,"v":11.5},{"s":"G","t":238,"v":13.4},{"s":"G","t":250,"v":16.0},{"s":"G","t":261,"v":18.2},{"s":"G","t":280,"v":20.8},{"s":"G","t":297,"v":23.0},{"s":"G","t":310,"v":24.6},{"s":"G","t":324,"v":26.1},{"s":"G","t":345,"v":27.9},{"s":"G","t":364,"v":29.4},{"s":"G","t":380,"v":30.6},{"s":"G","t":400,"v":31.8},{"s":"G","t":430,"v":33.2},{"s":"G","t":454,"v":34.2},{"s":"G","t":480,"v":35.2},{"s":"G","t":500,"v":35.9},{"s":"G","t":520,"v":36.6},{"s":"G","t":544,"v":37.5},{"s":"G","t":570,"v":38.6},{"s":"G","t":597,"v":39.7},{"s":"G","t":620,"v":40.6},{"s":"G","t":660,"v":41.8},{"s":"G","t":707,"v":43.0},{"s":"G","t":750,"v":43.8},{"s":"G","t":800,"v":44.4},{"s":"G","t":840,"v":45.4},{"s":"G","t":887,"v":45.9},{"s":"G","t":930,"v":46.6},{"s":"G","t":977,"v":47.1},{"s":"G","t":1022,"v":47.8},{"s":"G","t":1068,"v":48.0},{"s":"G","t":1112,"v":48.3},{"s":"G","t":1157,"v":49.0},{"s":"G","t":1200,"v":49.1},
{"s":"R","t":0,"v":1.0},{"s":"R","t":40,"v":1.1},{"s":"R","t":80,"v":1.0},{"s":"R","t":120,"v":1.2},{"s":"R","t":145,"v":1.3},{"s":"R","t":150,"v":4.0},{"s":"R","t":155,"v":7.5},{"s":"R","t":160,"v":9.5},{"s":"R","t":165,"v":11.5},{"s":"R","t":170,"v":13.0},{"s":"R","t":180,"v":15.5},{"s":"R","t":190,"v":18.8},{"s":"R","t":200,"v":20.8},{"s":"R","t":210,"v":22.2},{"s":"R","t":225,"v":24.0},{"s":"R","t":240,"v":25.7},{"s":"R","t":255,"v":27.2},{"s":"R","t":270,"v":28.5},{"s":"R","t":285,"v":29.6},{"s":"R","t":300,"v":30.6},{"s":"R","t":320,"v":31.6},{"s":"R","t":340,"v":32.5},{"s":"R","t":370,"v":33.6},{"s":"R","t":400,"v":34.6},{"s":"R","t":430,"v":35.4},{"s":"R","t":460,"v":36.3},{"s":"R","t":500,"v":37.2},{"s":"R","t":540,"v":38.0},{"s":"R","t":580,"v":39.0},{"s":"R","t":620,"v":39.8},{"s":"R","t":660,"v":40.3},{"s":"R","t":700,"v":41.0},{"s":"R","t":750,"v":41.2},{"s":"R","t":800,"v":41.5},{"s":"R","t":850,"v":41.7},{"s":"R","t":900,"v":41.9},{"s":"R","t":950,"v":42.1},{"s":"R","t":1000,"v":42.3},{"s":"R","t":1050,"v":42.4},{"s":"R","t":1100,"v":42.6},{"s":"R","t":1150,"v":43.0},{"s":"R","t":1200,"v":43.5},
{"s":"L","t":0,"v":0.6},{"s":"L","t":100,"v":0.7},{"s":"L","t":200,"v":0.8},{"s":"L","t":240,"v":0.9},{"s":"L","t":250,"v":1.4},{"s":"L","t":261,"v":2.9},{"s":"L","t":280,"v":4.6},{"s":"L","t":297,"v":6.2},{"s":"L","t":320,"v":7.9},{"s":"L","t":342,"v":9.4},{"s":"L","t":370,"v":10.9},{"s":"L","t":400,"v":12.2},{"s":"L","t":430,"v":13.3},{"s":"L","t":454,"v":14.2},{"s":"L","t":480,"v":15.3},{"s":"L","t":500,"v":16.2},{"s":"L","t":520,"v":16.9},{"s":"L","t":544,"v":17.8},{"s":"L","t":570,"v":18.6},{"s":"L","t":600,"v":19.3},{"s":"L","t":630,"v":19.9},{"s":"L","t":662,"v":20.6},{"s":"L","t":707,"v":21.4},{"s":"L","t":752,"v":21.8},{"s":"L","t":797,"v":22.2},{"s":"L","t":842,"v":23.0},{"s":"L","t":887,"v":23.4},{"s":"L","t":932,"v":23.6},{"s":"L","t":977,"v":24.0},{"s":"L","t":1022,"v":24.1},{"s":"L","t":1068,"v":24.4},{"s":"L","t":1090,"v":24.7},{"s":"L","t":1112,"v":24.1},{"s":"L","t":1157,"v":23.8},{"s":"L","t":1200,"v":23.6},
{"s":"D","t":0,"v":0.2},{"s":"D","t":600,"v":0.2},{"s":"D","t":1200,"v":0.2}
],
"endA":[{"s":"D","lab":"3","t":1200,"v":-0.3},{"s":"N","lab":"1","t":1200,"v":3.3},{"s":"R","lab":"1","t":1200,"v":10.2},{"s":"L","lab":"2","t":1200,"v":14.0},{"s":"G","lab":"4","t":1200,"v":21.3},{"s":"U","lab":"3","t":1200,"v":54.0},{"s":"T","lab":"2","t":1200,"v":57.3}],
"endB":[{"s":"D","lab":"3","t":1200,"v":-0.8},{"s":"N","lab":"1","t":1200,"v":2.8},{"s":"L","lab":"2","t":1200,"v":23.0},{"s":"R","lab":"1","t":1200,"v":42.5},{"s":"G","lab":"4","t":1200,"v":48.6},{"s":"U","lab":"3","t":1200,"v":55.6},{"s":"T","lab":"2","t":1200,"v":80.9}],
"ticksA":[{"t":60,"v":77.6,"v2":80},{"t":120,"v":77.6,"v2":80},{"t":180,"v":77.6,"v2":80},{"t":240,"v":77.6,"v2":80},{"t":360,"v":77.6,"v2":80},{"t":420,"v":77.6,"v2":80},{"t":480,"v":77.6,"v2":80},{"t":540,"v":77.6,"v2":80},{"t":660,"v":77.6,"v2":80},{"t":720,"v":77.6,"v2":80},{"t":780,"v":77.6,"v2":80},{"t":840,"v":77.6,"v2":80},{"t":960,"v":77.6,"v2":80},{"t":1020,"v":77.6,"v2":80},{"t":1080,"v":77.6,"v2":80},{"t":1140,"v":77.6,"v2":80},{"t":300,"v":75.2,"v2":80},{"t":600,"v":75.2,"v2":80},{"t":900,"v":75.2,"v2":80},{"t":1200,"v":75.2,"v2":80},{"t":300,"v":2.5,"v2":6.5},{"t":600,"v":2.5,"v2":6.5},{"t":900,"v":2.5,"v2":6.5},{"t":1200,"v":2.5,"v2":6.5}],
"ticksB":[{"t":60,"v":82.5,"v2":85},{"t":120,"v":82.5,"v2":85},{"t":180,"v":82.5,"v2":85},{"t":240,"v":82.5,"v2":85},{"t":360,"v":82.5,"v2":85},{"t":420,"v":82.5,"v2":85},{"t":480,"v":82.5,"v2":85},{"t":540,"v":82.5,"v2":85},{"t":660,"v":82.5,"v2":85},{"t":720,"v":82.5,"v2":85},{"t":780,"v":82.5,"v2":85},{"t":840,"v":82.5,"v2":85},{"t":960,"v":82.5,"v2":85},{"t":1020,"v":82.5,"v2":85},{"t":1080,"v":82.5,"v2":85},{"t":1140,"v":82.5,"v2":85},{"t":300,"v":79,"v2":85},{"t":600,"v":79,"v2":85},{"t":900,"v":79,"v2":85},{"t":1200,"v":79,"v2":85},{"t":60,"v":0.5,"v2":3.3},{"t":120,"v":0.5,"v2":3.3},{"t":180,"v":0.5,"v2":3.3},{"t":240,"v":0.5,"v2":3.3},{"t":360,"v":0.5,"v2":3.3},{"t":420,"v":0.5,"v2":3.3},{"t":480,"v":0.5,"v2":3.3},{"t":540,"v":0.5,"v2":3.3},{"t":660,"v":0.5,"v2":3.3},{"t":720,"v":0.5,"v2":3.3},{"t":780,"v":0.5,"v2":3.3},{"t":840,"v":0.5,"v2":3.3},{"t":960,"v":0.5,"v2":3.3},{"t":1020,"v":0.5,"v2":3.3},{"t":1080,"v":0.5,"v2":3.3},{"t":1140,"v":0.5,"v2":3.3},{"t":300,"v":0.5,"v2":8.5},{"t":600,"v":0.5,"v2":8.5},{"t":900,"v":0.5,"v2":8.5},{"t":1200,"v":4,"v2":8.6}],
"legA":[{"s":"N","o":1,"pre":"","txt":"NaCl"},{"s":"T","o":2,"pre":"","txt":"TRAP"},{"s":"U","o":3,"pre":"S. aureus","txt":"in untreated PRP"},{"s":"G","o":4,"pre":"S. aureus","txt":"in aspirin treated PRP"},{"s":"R","o":5,"pre":"S. aureus","txt":"in ticagrelor treated PRP"},{"s":"L","o":6,"pre":"S. aureus","txt":"in aspirin + ticagrelor treated PRP"},{"s":"D","o":7,"pre":"S. aureus","txt":"in tirofiban treated PRP"}],
"legB":[{"s":"N","o":1,"pre":"","txt":"NaCl"},{"s":"T","o":2,"pre":"","txt":"TRAP"},{"s":"U","o":3,"pre":"S. sanguinis","txt":"in untreated PRP"},{"s":"G","o":4,"pre":"S. sanguinis","txt":"in aspirin treated PRP"},{"s":"R","o":5,"pre":"S. sanguinis","txt":"in ticagrelor treated PRP"},{"s":"L","o":6,"pre":"S. sanguinis","txt":"in aspirin + ticagrelor treated PRP"},{"s":"D","o":7,"pre":"S. sanguinis","txt":"in tirofiban treated PRP"}]
},
"vconcat":[
{"title":{"text":"A","anchor":"start","frame":"bounds","dx":12,"offset":11,"baseline":"alphabetic","font":"Liberation Sans","fontSize":25,"fontWeight":"bold","color":"#000"},
 "spacing":10,
 "resolve":{"scale":{"color":"independent","fill":"independent"}},
 "hconcat":[
 {"width":952,"height":400,
  "resolve":{"axis":{"x":"independent","y":"independent"}},
  "layer":[
   {"data":{"name":"ticksA"},"mark":{"type":"rule","color":"#4FC24F","strokeWidth":1.6},
    "encoding":{
     "x":{"field":"t","type":"quantitative","scale":{"domain":[0,1200],"nice":false,"zero":false},"axis":{"orient":"bottom","values":[50,100,150,250,300,350,450,500,550,650,700,750,850,900,950,1050,1100,1150],"grid":true,"gridColor":"#D6D6D6","gridWidth":2,"labels":false,"title":null}},
     "y":{"field":"v","type":"quantitative","scale":{"domain":[-10.5,80],"reverse":true,"nice":false,"zero":false},"axis":{"orient":"left","values":[-10,-5,0,5,10,15,20,25,30,35,40,45,50,55,60,65,70,75],"grid":true,"gridColor":"#C4C4C4","gridWidth":1.5,"labels":false,"title":null}},
     "y2":{"field":"v2"}}},
   {"data":{"values":[{"z":0}]},"mark":{"type":"rule","color":"#000","strokeWidth":1.3},
    "encoding":{"y":{"field":"z","type":"quantitative","scale":{"domain":[-10.5,80],"reverse":true,"nice":false,"zero":false},"axis":null}}},
   {"data":{"name":"A"},"mark":{"type":"line","strokeWidth":4.2,"strokeJoin":"round","strokeCap":"round"},
    "encoding":{
     "x":{"field":"t","type":"quantitative","scale":{"domain":[0,1200],"nice":false,"zero":false},"axis":{"orient":"bottom","values":[0,200,400,600,800,1000,1200],"format":"d","grid":true,"gridColor":"#A2A2A2","gridWidth":2,"labelPadding":5,"labelOffset":{"condition":{"test":"datum.value == 0","value":4},"value":-5},"title":"Time (Sec)","titleFontSize":28,"titleX":488,"titleY":63,"titleBaseline":"alphabetic","titleAlign":"center"}},
     "y":{"field":"v","type":"quantitative","scale":{"domain":[-10.5,80],"reverse":true,"nice":false,"zero":false},"axis":{"orient":"left","values":[0,20,40,60,80],"grid":false,"domain":true,"domainColor":"#000","domainWidth":1.5,"labelPadding":9,"labelOffset":-4,"title":"% Light transmission","titleFontSize":26,"titleX":-45,"titleY":180,"titleAngle":270,"titleBaseline":"alphabetic","titleAlign":"center","zindex":1}},
     "color":{"field":"s","type":"nominal","scale":{"domain":["N","T","U","G","R","L","D"],"range":["#C8873F","#7CC142","#7B47B3","#454545","#E8141C","#3D87CC","#2B3FA6"]},"legend":null}}},
   {"data":{"name":"endA"},"mark":{"type":"text","align":"left","baseline":"middle","dx":1,"font":"Liberation Sans","fontSize":12,"fontWeight":"bold"},
    "encoding":{
     "x":{"field":"t","type":"quantitative","scale":{"domain":[0,1200],"nice":false,"zero":false},"axis":null},
     "y":{"field":"v","type":"quantitative","scale":{"domain":[-10.5,80],"reverse":true,"nice":false,"zero":false},"axis":{"orient":"right","values":[0,20,40,60,80],"grid":false,"labelAlign":"right","labelPadding":31,"labelOffset":-4,"title":null}},
     "text":{"field":"lab"},
     "color":{"field":"s","type":"nominal","scale":{"domain":["N","T","U","G","R","L","D"],"range":["#C8873F","#7CC142","#7B47B3","#454545","#E8141C","#3D87CC","#2B3FA6"]},"legend":null}}}
  ]},
 {"width":320,"height":400,"data":{"name":"legA"},
  "layer":[
   {"mark":{"type":"point","shape":"square","size":400,"filled":true,"opacity":1,"stroke":"#3a3a3a","strokeWidth":1.3},
    "encoding":{"x":{"datum":36,"type":"quantitative","scale":{"domain":[0,320],"nice":false,"zero":false},"axis":null},
     "y":{"field":"o","type":"quantitative","scale":{"domain":[-0.352,12.84],"reverse":true,"nice":false,"zero":false},"axis":null},
     "fill":{"field":"s","type":"nominal","scale":{"domain":["N","T","U","G","R","L","D"],"range":["#C98B4C","#7DC243","#6E43A3","#6D737B","#EC2227","#4588C8","#2E4A9E"]},"legend":null}}},
   {"transform":[{"filter":"datum.pre == ''"}],"mark":{"type":"text","align":"left","baseline":"middle","font":"Lato","fontSize":13.5,"fontWeight":"bold","color":"#1a1a1a"},
    "encoding":{"x":{"datum":52,"type":"quantitative","scale":{"domain":[0,320],"nice":false,"zero":false},"axis":null},"y":{"field":"o","type":"quantitative","scale":{"domain":[-0.352,12.84],"reverse":true,"nice":false,"zero":false},"axis":null},"text":{"field":"txt"}}},
   {"transform":[{"filter":"datum.pre != ''"}],"mark":{"type":"text","align":"left","baseline":"middle","font":"Lato","fontSize":13.5,"fontWeight":"bold","fontStyle":"italic","color":"#1a1a1a"},
    "encoding":{"x":{"datum":52,"type":"quantitative","scale":{"domain":[0,320],"nice":false,"zero":false},"axis":null},"y":{"field":"o","type":"quantitative","scale":{"domain":[-0.352,12.84],"reverse":true,"nice":false,"zero":false},"axis":null},"text":{"field":"pre"}}},
   {"transform":[{"filter":"datum.pre != ''"}],"mark":{"type":"text","align":"left","baseline":"middle","font":"Lato","fontSize":13.5,"fontWeight":"bold","color":"#1a1a1a","dx":56},
    "encoding":{"x":{"datum":52,"type":"quantitative","scale":{"domain":[0,320],"nice":false,"zero":false},"axis":null},"y":{"field":"o","type":"quantitative","scale":{"domain":[-0.352,12.84],"reverse":true,"nice":false,"zero":false},"axis":null},"text":{"field":"txt"}}}
  ]}
 ]},
{"title":{"text":"B","anchor":"start","frame":"bounds","dx":13,"offset":4,"baseline":"alphabetic","font":"Liberation Sans","fontSize":25,"fontWeight":"bold","color":"#000"},
 "spacing":10,
 "resolve":{"scale":{"color":"independent","fill":"independent"}},
 "hconcat":[
 {"width":952,"height":394,
  "resolve":{"axis":{"x":"independent","y":"independent"}},
  "layer":[
   {"data":{"name":"ticksB"},"mark":{"type":"rule","color":"#4FC24F","strokeWidth":1.6},
    "encoding":{
     "x":{"field":"t","type":"quantitative","scale":{"domain":[0,1200],"nice":false,"zero":false},"axis":{"orient":"bottom","values":[50,100,150,250,300,350,450,500,550,650,700,750,850,900,950,1050,1100,1150],"grid":true,"gridColor":"#D6D6D6","gridWidth":2,"labels":false,"title":null}},
     "y":{"field":"v","type":"quantitative","scale":{"domain":[-10,85],"reverse":true,"nice":false,"zero":false},"axis":{"orient":"left","values":[-10,-5,0,5,10,15,20,25,30,35,40,45,50,55,60,65,70,75,80],"grid":true,"gridColor":"#C4C4C4","gridWidth":1.5,"labels":false,"title":null}},
     "y2":{"field":"v2"}}},
   {"data":{"name":"B"},"mark":{"type":"line","strokeWidth":3,"strokeJoin":"round","strokeCap":"round"},
    "encoding":{
     "x":{"field":"t","type":"quantitative","scale":{"domain":[0,1200],"nice":false,"zero":false},"axis":{"orient":"bottom","values":[0,200,400,600,800,1000,1200],"format":"d","grid":true,"gridColor":"#A2A2A2","gridWidth":2,"labelPadding":8,"labelOffset":{"condition":{"test":"datum.value == 0","value":4},"value":-5},"title":"Time (Sec)","titleFontSize":28,"titleX":494,"titleY":59,"titleBaseline":"alphabetic","titleAlign":"center"}},
     "y":{"field":"v","type":"quantitative","scale":{"domain":[-10,85],"reverse":true,"nice":false,"zero":false},"axis":{"orient":"left","values":[0,20,40,60,80],"grid":false,"domain":true,"domainColor":"#000","domainWidth":1.5,"labelPadding":9,"labelOffset":-5.5,"title":"% Light transmission","titleFontSize":26,"titleX":-45,"titleY":169,"titleAngle":270,"titleBaseline":"alphabetic","titleAlign":"center","zindex":1}},
     "color":{"field":"s","type":"nominal","scale":{"domain":["N","T","U","G","R","L","D"],"range":["#C8873F","#7CC142","#7446AE","#8A8A8A","#EE1C24","#3D87CC","#3442A8"]},"legend":null}}},
   {"data":{"name":"endB"},"mark":{"type":"text","align":"left","baseline":"middle","dx":1,"font":"Liberation Sans","fontSize":12,"fontWeight":"bold"},
    "encoding":{
     "x":{"field":"t","type":"quantitative","scale":{"domain":[0,1200],"nice":false,"zero":false},"axis":null},
     "y":{"field":"v","type":"quantitative","scale":{"domain":[-10,85],"reverse":true,"nice":false,"zero":false},"axis":{"orient":"right","values":[0,20,40,60,80],"grid":false,"labelAlign":"right","labelPadding":31,"labelOffset":-5.5,"title":null}},
     "text":{"field":"lab"},
     "color":{"field":"s","type":"nominal","scale":{"domain":["N","T","U","G","R","L","D"],"range":["#C8873F","#7CC142","#7446AE","#8A8A8A","#EE1C24","#3D87CC","#3442A8"]},"legend":null}}}
  ]},
 {"width":320,"height":394,"data":{"name":"legB"},
  "layer":[
   {"mark":{"type":"point","shape":"square","size":400,"filled":true,"opacity":1,"stroke":"#3a3a3a","strokeWidth":1.3},
    "encoding":{"x":{"datum":33,"type":"quantitative","scale":{"domain":[0,320],"nice":false,"zero":false},"axis":null},
     "y":{"field":"o","type":"quantitative","scale":{"domain":[-0.121,12.87],"reverse":true,"nice":false,"zero":false},"axis":null},
     "fill":{"field":"s","type":"nominal","scale":{"domain":["N","T","U","G","R","L","D"],"range":["#C98B4C","#7DC243","#7146A6","#6D737B","#EC2227","#4588C8","#2D4C9F"]},"legend":null}}},
   {"transform":[{"filter":"datum.pre == ''"}],"mark":{"type":"text","align":"left","baseline":"middle","font":"Lato","fontSize":13.5,"fontWeight":"bold","color":"#1a1a1a"},
    "encoding":{"x":{"datum":50,"type":"quantitative","scale":{"domain":[0,320],"nice":false,"zero":false},"axis":null},"y":{"field":"o","type":"quantitative","scale":{"domain":[-0.121,12.87],"reverse":true,"nice":false,"zero":false},"axis":null},"text":{"field":"txt"}}},
   {"transform":[{"filter":"datum.pre != ''"}],"mark":{"type":"text","align":"left","baseline":"middle","font":"Lato","fontSize":13.5,"fontWeight":"bold","fontStyle":"italic","color":"#1a1a1a"},
    "encoding":{"x":{"datum":50,"type":"quantitative","scale":{"domain":[0,320],"nice":false,"zero":false},"axis":null},"y":{"field":"o","type":"quantitative","scale":{"domain":[-0.121,12.87],"reverse":true,"nice":false,"zero":false},"axis":null},"text":{"field":"pre"}}},
   {"transform":[{"filter":"datum.pre != ''"}],"mark":{"type":"text","align":"left","baseline":"middle","font":"Lato","fontSize":13.5,"fontWeight":"bold","color":"#1a1a1a","dx":70},
    "encoding":{"x":{"datum":50,"type":"quantitative","scale":{"domain":[0,320],"nice":false,"zero":false},"axis":null},"y":{"field":"o","type":"quantitative","scale":{"domain":[-0.121,12.87],"reverse":true,"nice":false,"zero":false},"axis":null},"text":{"field":"txt"}}}
  ]}
 ]}
]
}
